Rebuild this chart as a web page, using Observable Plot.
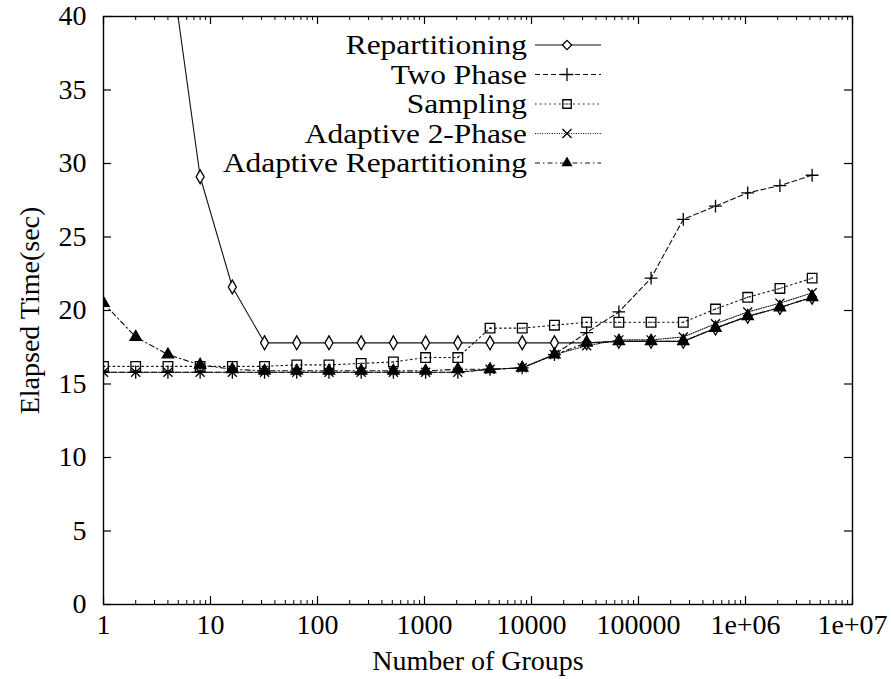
<!DOCTYPE html>
<html><head><meta charset="utf-8">
<script src="https://cdn.jsdelivr.net/npm/d3@7"></script>
<script src="https://cdn.jsdelivr.net/npm/@observablehq/plot@0.6"></script>
<style>body{margin:0;background:#fff} svg{display:block}</style>
</head><body><div id="chart"></div>
<script>
// ---- data ----
const groups = [1,2,4,8,16,32,64,128,256,512,1024,2048,4096,8192,16384,32768,65536,131072,262144,524288,1048576,2097152,4194304];
const repartitioning = [null,null,45,29.1,21.6,17.8,17.8,17.8,17.8,17.8,17.8,17.8,17.8,17.8,17.8,17.8,17.9,17.9,17.9,18.8,19.6,20.2,20.9];
const twoPhase = [15.8,15.8,15.8,15.8,15.8,15.8,15.8,15.8,15.8,15.8,15.8,15.8,16.0,16.1,17.0,18.5,19.9,22.2,26.2,27.1,28.0,28.5,29.2];
const sampling = [16.2,16.2,16.2,16.2,16.2,16.2,16.3,16.3,16.4,16.5,16.8,16.8,18.8,18.8,19.0,19.2,19.2,19.2,19.2,20.1,20.9,21.5,22.2];
const adaptive2Phase = [15.8,15.8,15.8,15.8,15.8,15.8,15.8,15.8,15.8,15.8,15.8,15.8,16.0,16.1,17.0,17.6,18.0,18.0,18.2,19.1,19.9,20.5,21.2];
const adaptiveRepartitioning = [20.5,18.2,17.0,16.3,16.0,15.9,15.9,15.9,15.9,15.9,15.9,16.0,16.0,16.1,17.0,17.8,17.9,17.9,17.9,18.8,19.6,20.2,20.9];
const seriesNames = ["Repartitioning","Two Phase","Sampling","Adaptive 2-Phase","Adaptive Repartitioning"];
const seriesValues = [repartitioning, twoPhase, sampling, adaptive2Phase, adaptiveRepartitioning];
const xTicks = [1,10,100,1000,10000,100000,1000000,10000000];
const xTickLabels = ["1","10","100","1000","10000","100000","1e+06","1e+07"];
const yTicks = [0,5,10,15,20,25,30,35,40];
const xLabel = "Number of Groups";
const yLabel = "Elapsed Time(sec)";

// ---- styles ----
const styles = [
  {symbol: "diamond", dash: null, fill: "white", d3sym: d3.symbolDiamond2},
  {symbol: "plus", dash: "5,3", fill: "none", d3sym: d3.symbolPlus},
  {symbol: "square", dash: "1.6,3.2", fill: "none", d3sym: d3.symbolSquare2},
  {symbol: "times", dash: "1,1.4", fill: "none", d3sym: d3.symbolTimes},
  {symbol: "triangle", dash: "5,3,1.5,3", fill: "black", d3sym: d3.symbolTriangle2}
];

const W = 891, H = 679, mt = 16, mb = 75, ml = 103, mr = 39;
const innerW = W - ml - mr, innerH = H - mt - mb;
const FONT = "Liberation Serif";

const rows = [];
seriesNames.forEach((name, si) => groups.forEach((g, i) => {
  if (seriesValues[si][i] != null) rows.push({series: name, si, groups: g, time: seriesValues[si][i]});
}));

const minorTicks = [];
for (let d = 1; d < 1e7; d *= 10) for (let m = 2; m <= 9; m++) minorTicks.push(d * m);

const lineMarks = [], dotMarks = [];
seriesNames.forEach((name, si) => {
  const data = rows.filter(r => r.si === si);
  lineMarks.push(Plot.line(data, {x: "groups", y: "time", stroke: "#111", strokeWidth: 1.1, strokeDasharray: styles[si].dash, clip: true}));
  dotMarks.push(Plot.dot(data, {x: "groups", y: "time", symbol: () => styles[si].symbol, r: si === 2 ? 5.4 : 4.2, stroke: "#000", strokeWidth: 1.3, fill: styles[si].fill, clip: true}));
});
const samplingData = rows.filter(r => r.si === 2);

function legend() {
  const g = d3.create("svg:g").attr("font-family", FONT).attr("font-size", 26.6);
  const top = 45, step = 29.5, textRight = 527, x1 = 535, x2 = 601, xm = 567;
  seriesNames.forEach((name, i) => {
    const y = top + i * step;
    g.append("text").attr("transform", `translate(${textRight},${y}) scale(1.18,1)`).attr("dy", "0.35em").attr("text-anchor", "end").attr("fill", "#000").text(name);
    g.append("line").attr("x1", x1).attr("x2", x2).attr("y1", y).attr("y2", y).attr("stroke", "#111").attr("stroke-width", 1.1).attr("stroke-dasharray", styles[i].dash);
    const r = i === 2 ? 5.4 : 4.2;
    g.append("path").attr("transform", `translate(${xm},${y})`).attr("d", d3.symbol(styles[i].d3sym, Math.PI * r * r)())
      .attr("stroke", "#000").attr("stroke-width", 1.3).attr("fill", styles[i].fill);
    if (i === 2) g.append("circle").attr("cx", xm).attr("cy", y).attr("r", 0.8).attr("fill", "#000");
  });
  return g.node();
}

const chart = Plot.plot({
  width: W, height: H,
  marginTop: mt, marginBottom: mb, marginLeft: ml, marginRight: mr,
  style: {fontFamily: FONT, background: "#fff", color: "#000"},
  x: {type: "log", domain: [1, 1e7]},
  y: {domain: [0, 40]},
  marks: [
    // ticks (inward, mirrored)
    Plot.ruleX(minorTicks, {insetTop: innerH - 4, stroke: "#000", strokeWidth: 1}),
    Plot.ruleX(minorTicks, {insetBottom: innerH - 4, stroke: "#000", strokeWidth: 1}),
    Plot.ruleX(xTicks, {insetTop: innerH - 8, stroke: "#000", strokeWidth: 1.2}),
    Plot.ruleX(xTicks, {insetBottom: innerH - 8, stroke: "#000", strokeWidth: 1.2}),
    Plot.ruleY(yTicks, {insetRight: innerW - 8, stroke: "#000", strokeWidth: 1.2}),
    Plot.ruleY(yTicks, {insetLeft: innerW - 8, stroke: "#000", strokeWidth: 1.2}),
    Plot.frame({stroke: "#000", strokeWidth: 1.4}),
    Plot.axisX(xTicks, {tickSize: 0, tickPadding: 10, fontSize: 28, tickFormat: d => xTickLabels[xTicks.indexOf(d)], label: null}),
    Plot.axisY(yTicks, {tickSize: 0, tickPadding: 17, fontSize: 28, label: null}),
    Plot.text([xLabel], {text: d => d, frameAnchor: "bottom", textAnchor: "middle", lineAnchor: "middle", dy: 57, fontSize: 28}),
    Plot.text([yLabel], {text: d => d, frameAnchor: "left", textAnchor: "middle", lineAnchor: "middle", dx: -73, rotate: -90, fontSize: 28}),
    ...lineMarks,
    ...dotMarks,
    Plot.dot(samplingData, {x: "groups", y: "time", r: 0.8, fill: "#000", clip: true}),
    legend
  ]
});
document.getElementById("chart").appendChild(chart);
</script>
</body></html>
